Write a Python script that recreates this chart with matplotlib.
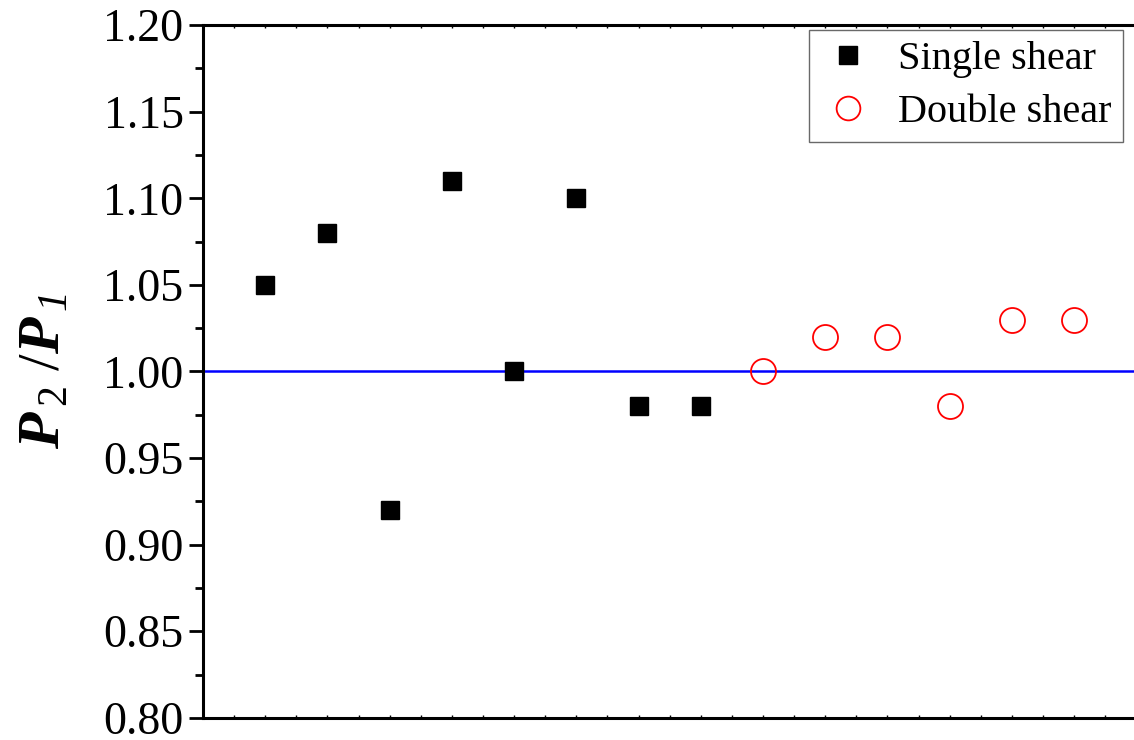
import numpy as np
import matplotlib.pyplot as plt
from matplotlib.ticker import MultipleLocator

plt.rcParams['font.family'] = ['Liberation Serif', 'DejaVu Serif']
plt.rcParams['mathtext.fontset'] = 'custom'
plt.rcParams['mathtext.rm'] = 'Liberation Serif'
plt.rcParams['mathtext.it'] = 'Liberation Serif:italic'
plt.rcParams['mathtext.sf'] = 'Liberation Serif:italic'
plt.rcParams['mathtext.bf'] = 'Liberation Serif:bold'
plt.rcParams['mathtext.bfit'] = 'Liberation Serif:italic:bold'

# specimen index and load ratio P2/P1
single_x = [1, 2, 3, 4, 5, 6, 7, 8]
single_ratio = [1.05, 1.08, 0.92, 1.11, 1.00, 1.10, 0.98, 0.98]
double_x = [9, 10, 11, 12, 13, 14]
double_ratio = [1.00, 1.02, 1.02, 0.98, 1.03, 1.03]
reference_ratio = 1.00

fig = plt.figure(figsize=(11.34, 7.40), dpi=100)
ax = fig.add_axes([0.179, 0.03, 0.823, 0.936])

ax.axhline(reference_ratio, color='#0000ff', lw=1.8, zorder=1)
ax.plot(single_x, single_ratio, 's', color='black', ms=13.5, ls='none',
        label='Single shear', zorder=3)
ax.plot(double_x, double_ratio, 'o', mfc='none', mec='red', mew=1.3, ms=18,
        ls='none', label='Double shear', zorder=3)

ax.set_xlim(0, 15)
ax.set_ylim(0.80, 1.20)
ax.yaxis.set_major_locator(MultipleLocator(0.05))
ax.yaxis.set_minor_locator(MultipleLocator(0.025))
ax.xaxis.set_major_locator(MultipleLocator(0.5))
ax.set_xticklabels([])
ax.tick_params(axis='y', which='major', direction='out', length=10, width=2,
               labelsize=33, pad=4)
ax.tick_params(axis='y', which='minor', direction='out', length=6, width=2)
ax.tick_params(axis='x', which='major', direction='in', length=2, width=1,
               top=True, bottom=True)
ax.yaxis.set_major_formatter(plt.FormatStrFormatter('%.2f'))
for side in ax.spines.values():
    side.set_linewidth(2.2)

ax.set_ylabel(r'$\mathbfit{P}_{\,2}\ /\mathbfit{P}_{\,\mathsf{1}}$', fontsize=43,
              labelpad=22)

leg = ax.legend(loc='upper right', bbox_to_anchor=(0.986, 0.993),
                fontsize=29, frameon=True, fancybox=False,
                edgecolor='#444444', borderaxespad=0.0, handletextpad=0.55,
                borderpad=0.28, labelspacing=0.38, handlelength=1.4,
                markerscale=0.95)
leg.get_frame().set_linewidth(1.0)

fig.savefig('out.png', dpi=100)
